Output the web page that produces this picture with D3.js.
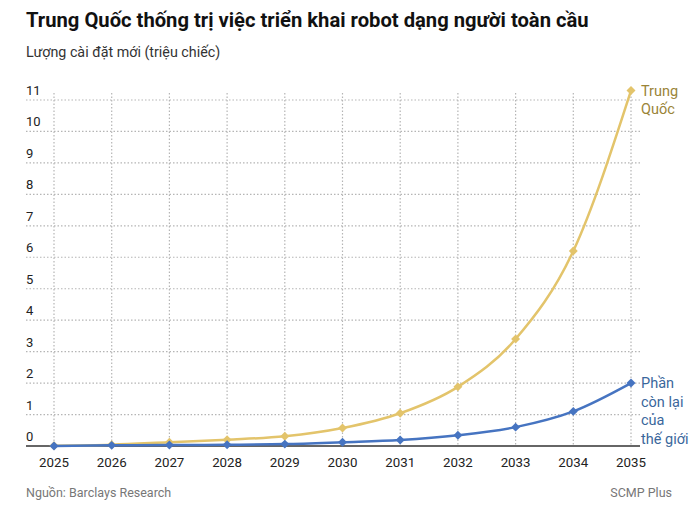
<!DOCTYPE html>
<html>
<head>
<meta charset="utf-8">
<script src="https://cdn.jsdelivr.net/npm/d3@7"></script>
<style>
  body { margin: 0; background: #fff; }
  text { font-family: Roboto, "Noto Sans", sans-serif; }
</style>
</head>
<body>
<svg id="chart" width="700" height="507"></svg>
<script>
// Years on the x axis.
var years = [2025, 2026, 2027, 2028, 2029, 2030, 2031, 2032, 2033, 2034, 2035];

// New installations, million units.
var chinaValues = [0.01, 0.04, 0.12, 0.2, 0.31, 0.57, 1.04, 1.88, 3.4, 6.2, 11.3];
var restValues  = [0.0, 0.02, 0.03, 0.04, 0.06, 0.12, 0.19, 0.34, 0.6, 1.1, 2.0];

// Y axis tick labels.
var yTicks = [0, 1, 2, 3, 4, 5, 6, 7, 8, 9, 10, 11];

var svg = d3.select("#chart");

// Scales.
var x = d3.scaleLinear().domain([2025, 2035]).range([54, 631]);
var y = d3.scaleLinear().domain([0, 11]).range([446, 100]);

// Title and subtitle.
svg.append("text")
  .attr("x", 26).attr("y", 27)
  .attr("font-size", 20.2).attr("font-weight", "bold").attr("fill", "#111")
  .text("Trung Quốc thống trị việc triển khai robot dạng người toàn cầu");

svg.append("text")
  .attr("x", 26).attr("y", 57)
  .attr("font-size", 14.3).attr("fill", "#333")
  .text("Lượng cài đặt mới (triệu chiếc)");

// Horizontal gridlines with labels sitting above them.
var grid = svg.append("g");
grid.selectAll("line.h")
  .data(yTicks.filter(function (d) { return d > 0; }))
  .enter().append("line")
  .attr("x1", 26).attr("x2", 640)
  .attr("y1", function (d) { return y(d); })
  .attr("y2", function (d) { return y(d); })
  .attr("stroke", "#b5b5b5").attr("stroke-width", 1.2)
  .attr("stroke-dasharray", "1.5,2");

// Vertical gridlines at each year.
grid.selectAll("line.v")
  .data(years)
  .enter().append("line")
  .attr("x1", function (d) { return x(d); })
  .attr("x2", function (d) { return x(d); })
  .attr("y1", 93).attr("y2", y(0))
  .attr("stroke", "#b5b5b5").attr("stroke-width", 1.2)
  .attr("stroke-dasharray", "1.5,2");

grid.selectAll("text.ytick")
  .data(yTicks)
  .enter().append("text")
  .attr("x", 26)
  .attr("y", function (d) { return y(d) - 5; })
  .attr("font-size", 13).attr("fill", "#222")
  .text(function (d) { return d; });

// Baseline.
svg.append("line")
  .attr("x1", 26).attr("x2", 640)
  .attr("y1", y(0)).attr("y2", y(0))
  .attr("stroke", "#333").attr("stroke-width", 1.3);

// Year labels.
svg.append("g").selectAll("text")
  .data(years)
  .enter().append("text")
  .attr("x", function (d) { return x(d); })
  .attr("y", 467)
  .attr("text-anchor", "middle")
  .attr("font-size", 13.3).attr("fill", "#222")
  .text(function (d) { return d; });

// Draw one series: line plus diamond markers.
function drawSeries(values, color) {
  var pts = years.map(function (yr, i) { return [x(yr), y(values[i])]; });
  var line = d3.line().curve(d3.curveMonotoneX);
  svg.append("path")
    .attr("d", line(pts))
    .attr("fill", "none")
    .attr("stroke", color).attr("stroke-width", 2.5);
  svg.append("g").selectAll("path")
    .data(pts)
    .enter().append("path")
    .attr("d", d3.symbol().type(d3.symbolSquare).size(40))
    .attr("transform", function (p) { return "translate(" + p[0] + "," + p[1] + ") rotate(45)"; })
    .attr("fill", color);
}

drawSeries(chinaValues, "#e3c46b");
drawSeries(restValues, "#4674c1");

// Series labels at the right end.
function seriesLabel(lines, yTop, color) {
  var t = svg.append("text")
    .attr("x", 641).attr("font-size", 14.5).attr("fill", color);
  lines.forEach(function (s, i) {
    t.append("tspan").attr("x", 641).attr("y", yTop + i * 18.7).text(s);
  });
}
seriesLabel(["Trung", "Quốc"], y(11.3) + 5, "#9a8437");
seriesLabel(["Phần", "còn lại", "của", "thế giới"], y(2.0) + 5, "#3a679c");

// Footer.
svg.append("text")
  .attr("x", 26).attr("y", 497)
  .attr("font-size", 12.5).attr("fill", "#777")
  .text("Nguồn: Barclays Research");

svg.append("text")
  .attr("x", 672).attr("y", 497)
  .attr("text-anchor", "end")
  .attr("font-size", 12.5).attr("fill", "#777")
  .text("SCMP Plus");
</script>
</body>
</html>
